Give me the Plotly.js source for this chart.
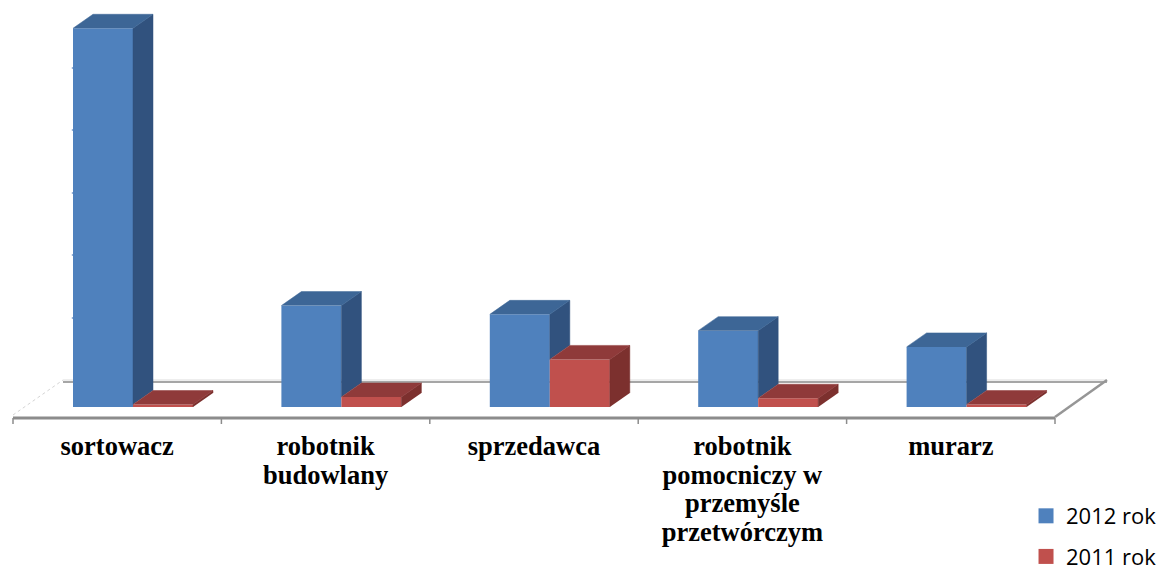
<!DOCTYPE html>
<html>
<head>
<meta charset="utf-8">
<script src="https://cdn.plot.ly/plotly-3.0.1.min.js"></script>
<style>html,body{margin:0;padding:0;background:#fff}#c{width:1160px;height:565px}</style>
</head>
<body>
<div id="c"></div>
<script>
const categories = [['sortowacz'], ['robotnik', 'budowlany'], ['sprzedawca'], ['robotnik', 'pomocniczy w', 'przemyśle', 'przetwórczym'], ['murarz']];
const values2012 = [302.5, 81, 74, 61, 48];
const values2011 = [2, 8, 38, 7, 2];
const seriesNames = ['2012 rok', '2011 rok'];
const gridPixels = [68, 130, 193, 255, 318];

const colors2012 = {front: '#4f81bd', top: '#3d6696', side: '#31527e'};
const colors2011 = {front: '#c0504d', top: '#8f3a3a', side: '#7c302e'};

const pxPerCat = 208.4, unitsPerPx = 50 / 62.6;
const xOf = px => (px - 13) / pxPerCat;
const yOf = px => (407 - px) * unitsPerPx;
const barW = 60 / pxPerCat, depthX = 20 / pxPerCat, depthY = 14 * unitsPerPx;
const groupStart = 60 / pxPerCat;
const idx = categories.map((_, i) => i);
const groupCentre = groupStart + barW;
const labelText = lines => lines.map(l => '<span style="font-size:26.5px">' + l + '</span>').join('<br>');

function face(pts, color) {
  return {type: 'scatter', mode: 'lines', x: pts.map(p => p[0]), y: pts.map(p => p[1]),
    fill: 'toself', fillcolor: color, line: {color: color, width: 0.5},
    showlegend: false, hoverinfo: 'skip'};
}
const traces = [];
[[values2012, seriesNames[0], colors2012], [values2011, seriesNames[1], colors2011]].forEach(([vals, name, col]) => {
  traces.push({type: 'bar', name: name, x: idx.map(i => i + groupCentre), y: vals, showlegend: false,
    marker: {color: col.front, line: {width: 0}}, hoverinfo: 'x+y'});
});
idx.forEach(i => {
  const x0 = i + groupStart, x1 = x0 + barW, x2 = x1 + barW;
  const b = values2012[i], r = values2011[i];
  traces.push(face([[x1, r], [x1, b], [x1 + depthX, b + depthY], [x1 + depthX, r + depthY]], colors2012.side));
  traces.push(face([[x0, b], [x0 + depthX, b + depthY], [x1 + depthX, b + depthY], [x1, b]], colors2012.top));
  traces.push(face([[x2, 0], [x2, r], [x2 + depthX, r + depthY], [x2 + depthX, depthY]], colors2011.side));
  traces.push(face([[x1, r], [x1 + depthX, r + depthY], [x2 + depthX, r + depthY], [x2, r]], colors2011.top));
});
// legend entries, with swatches of the reference's size
[[seriesNames[0], colors2012], [seriesNames[1], colors2011]].forEach(([name, col]) => {
  traces.push({type: 'scatter', mode: 'markers', name: name, x: [null], y: [null], legendgroup: name,
    marker: {symbol: 'square', size: 15, color: col.front}, hoverinfo: 'skip'});
});

const seg = (x0, y0, x1, y1, color, width, dash) => ({type: 'line', layer: 'below', xref: 'x', yref: 'y',
  x0: xOf(x0), y0: yOf(y0), x1: xOf(x1), y1: yOf(y1), line: {color: color, width: width, dash: dash || 'solid'}});
const shapes = [
  seg(63, 380, 1107, 380, '#dcdcdc', 1),
  seg(63, 382, 1107, 382, '#a6a6a6', 2),
  seg(13, 415, 63, 380, '#d4d4d4', 1, 'dot'),
  seg(1055, 417, 1107, 380, '#969696', 2.5),
  seg(13, 418, 1055, 418, '#8c8c8c', 3)
];
[13, 221.4, 429.8, 638.2, 846.6, 1055].forEach(px => shapes.push(seg(px, 418, px, 424, '#8c8c8c', 1.5)));
gridPixels.forEach(py => shapes.push(seg(71.8, py, 73.5, py, '#7096c8', 1.5)));

const layout = {
  width: 1160, height: 565,
  margin: {l: 0, r: 0, t: 0, b: 141, pad: 0, autoexpand: false},
  paper_bgcolor: '#fff', plot_bgcolor: '#fff',
  barmode: 'group', bargap: 1 - 2 * barW,
  showlegend: true,
  legend: {x: 0.8845, xanchor: 'left', y: -0.1675, yanchor: 'top', tracegroupgap: 9,
    font: {family: '"Open Sans", sans-serif', size: 22, color: '#000'}, itemwidth: 30, bgcolor: 'rgba(0,0,0,0)'},
  xaxis: {range: [xOf(0), xOf(1160)], showgrid: false, zeroline: false, showline: false, ticks: '',
    tickmode: 'array', tickvals: idx.map(i => i + 0.5), ticktext: categories.map(labelText), tickangle: 0, fixedrange: true,
    ticklabelstandoff: 8,
    tickfont: {family: '"Liberation Serif", serif', size: 22, color: '#000', weight: 700}},
  yaxis: {range: [yOf(424), yOf(0)], showgrid: false, zeroline: false, showline: false, ticks: '',
    showticklabels: false, fixedrange: true},
  shapes: shapes
};
Plotly.newPlot('c', traces, layout, {displayModeBar: false});
</script>
</body>
</html>
